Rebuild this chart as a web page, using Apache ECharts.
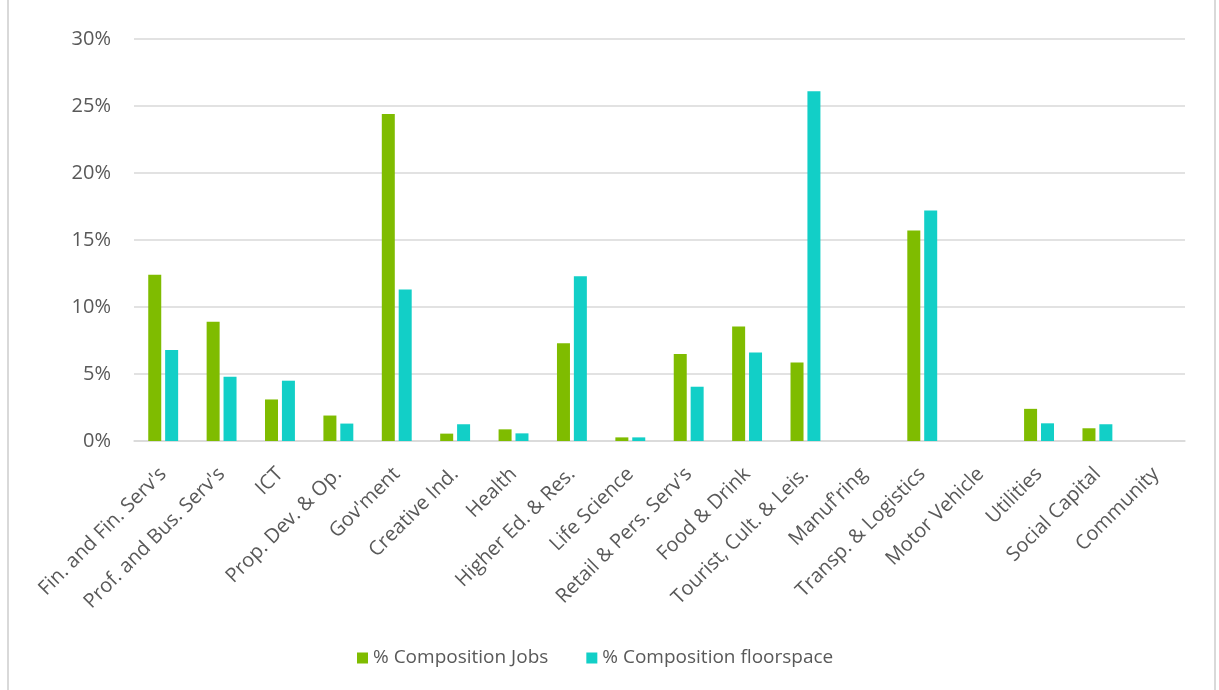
<!DOCTYPE html>
<html>
<head>
<meta charset="utf-8">
<script src="https://cdn.jsdelivr.net/npm/echarts@6/dist/echarts.min.js"></script>
<style>
  html, body { margin: 0; padding: 0; background: #fff; }
  #frame { position: absolute; left: 7px; top: -2px; width: 1209px; height: 700px;
           border-left: 2px solid #d9d9d9; border-right: 2px solid #d9d9d9; box-sizing: border-box; }
  #chart { position: absolute; left: 0; top: 0; width: 1219px; height: 690px; }
</style>
</head>
<body>
<div id="frame"></div>
<div id="chart"></div>
<script>
// Sector categories along the x axis
const sectors = [
  "Fin. and Fin. Serv's", "Prof. and Bus. Serv's", "ICT", "Prop. Dev. & Op.",
  "Gov'ment", "Creative Ind.", "Health", "Higher Ed. & Res.", "Life Science",
  "Retail & Pers. Serv's", "Food & Drink", "Tourist, Cult. & Leis.", "Manuf'ring",
  "Transp. & Logistics", "Motor Vehicle", "Utilities", "Social Capital", "Community"
];

// Share of jobs by sector (%)
const jobsShare = [12.4, 8.9, 3.1, 1.9, 24.4, 0.55, 0.87, 7.3, 0.27, 6.5, 8.55, 5.85, 0, 15.7, 0, 2.4, 0.95, 0];

// Share of floorspace by sector (%)
const floorspaceShare = [6.8, 4.8, 4.5, 1.3, 11.3, 1.25, 0.57, 12.3, 0.27, 4.05, 6.6, 26.1, 0, 17.2, 0, 1.32, 1.25, 0];

// Series names shown in the legend
const seriesNames = ["% Composition Jobs", "% Composition floorspace"];

const fontFamily = "'Open Sans', 'DejaVu Sans', sans-serif";
const textColor = "#595959";

const chart = echarts.init(document.getElementById("chart"), null, { renderer: "canvas" });

chart.setOption({
  animation: false,
  textStyle: { fontFamily: fontFamily },
  grid: { left: 134, right: 34, top: 39, bottom: 249, containLabel: false },
  legend: {
    top: 642,
    left: 352,
    itemWidth: 11,
    itemHeight: 11,
    itemGap: 38,
    icon: "rect",
    textStyle: { color: textColor, fontSize: 19, lineHeight: 22, fontFamily: fontFamily },
    data: seriesNames
  },
  xAxis: {
    type: "category",
    data: sectors,
    axisLine: { lineStyle: { color: "#d9d9d9", width: 1.5 } },
    axisTick: { show: false },
    axisLabel: {
      rotate: 45,
      interval: 0,
      margin: 30,
      color: textColor,
      fontSize: 20,
      fontFamily: fontFamily
    }
  },
  yAxis: {
    type: "value",
    min: 0,
    max: 30,
    interval: 5,
    axisLine: { show: false },
    axisTick: { show: false },
    splitLine: { lineStyle: { color: "#d9d9d9", width: 1.5 } },
    axisLabel: {
      formatter: "{value}%",
      color: textColor,
      fontSize: 20,
      fontFamily: fontFamily,
      margin: 23
    }
  },
  series: [
    {
      name: seriesNames[0],
      type: "bar",
      data: jobsShare,
      barWidth: 13,
      barGap: "30%",
      itemStyle: { color: "#7fbc00" }
    },
    {
      name: seriesNames[1],
      type: "bar",
      data: floorspaceShare,
      barWidth: 13,
      barGap: "30%",
      itemStyle: { color: "#12cfc7" }
    }
  ]
});
</script>
</body>
</html>
